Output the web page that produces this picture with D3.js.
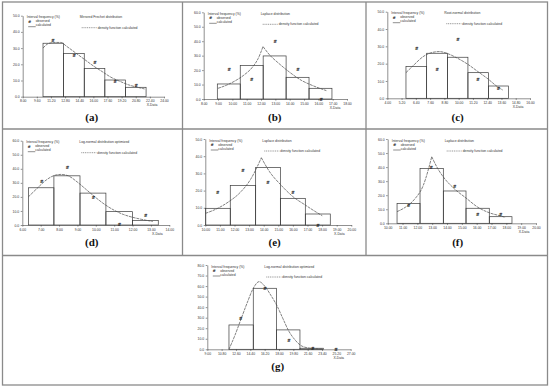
<!DOCTYPE html>
<html>
<head>
<meta charset="utf-8">
<script src="https://cdn.jsdelivr.net/npm/d3@7"></script>
<style>
  body { margin: 0; background: #fff; }
  svg { display: block; }
  .axis text { font-family: "Liberation Sans", Arial, sans-serif; font-size: 3.4px; fill: #333; }
  .axis path, .axis line { stroke: #444; stroke-width: 0.6; }
  .leg { font-family: "Liberation Sans", Arial, sans-serif; font-size: 3.4px; fill: #333; }
  .plabel { font-family: "Liberation Serif", "Times New Roman", serif; font-size: 11px; font-weight: bold; fill: #111; }
</style>
</head>
<body>
<div id="chart"></div>
<script>
// ---- data ----
// (a) mirrored Frechet
const aEdges = [10.3, 12.63, 14.97, 17.3, 19.63, 21.97];
const aFreq = [33.0, 26.7, 17.5, 10.3, 5.8];
const aObserved = [[11.43, 35.0], [13.84, 25.7], [16.17, 21.0], [18.47, 9.5], [20.84, 7.0]];
const aCurve = [[10.3, 30.0], [10.8, 32.5], [11.5, 33.5], [12.3, 33.5], [13.0, 31.0], [14.0, 27.0], [15.0, 23.0], [16.0, 19.0], [17.0, 15.5], [18.0, 12.0], [19.0, 9.5], [20.0, 7.3], [21.0, 5.8], [21.8, 4.8]];
const aXTicks = [8.00, 9.60, 11.20, 12.80, 14.40, 16.00, 17.60, 19.20, 20.80, 22.40, 24.00];
const aYTicks = [0, 10, 20, 30, 40, 50];

// (b) Laplace
const bEdges = [8.95, 10.55, 12.15, 13.75, 15.35, 16.95];
const bFreq = [10.4, 23.1, 29.8, 15.0, 7.4];
const bObserved = [[9.77, 20.1], [11.35, 13.2], [12.98, 39.7], [14.58, 20.1], [16.19, 0]];
const bCurve = [[9.0, 7.4], [9.6, 9.6], [10.2, 12.6], [10.8, 16.5], [11.4, 22.0], [11.8, 28.0], [12.14, 36.3], [12.6, 30.5], [13.2, 25.0], [14.0, 18.5], [14.8, 13.0], [15.6, 9.3], [16.56, 5.8]];
const bXTicks = [8, 9, 10, 11, 12, 13, 14, 15, 16, 17, 18];
const bYTicks = [0, 10, 20, 30, 40, 50, 60];

// (c) root-normal
const cEdges = [5.57, 7.31, 9.07, 10.78, 12.52, 14.2];
const cFreq = [18.3, 26.0, 23.7, 14.8, 7.1];
const cObserved = [[6.47, 28.5], [8.2, 16.9], [9.94, 34.0], [11.62, 11.0], [13.34, 5.4]];
const cCurve = [[5.57, 14.8], [6.2, 19.0], [7.0, 24.0], [7.8, 26.5], [8.4, 27.0], [9.0, 26.0], [9.8, 23.5], [10.8, 19.5], [11.6, 15.5], [12.5, 11.0], [13.2, 7.0], [13.7, 4.8]];
const cXTicks = [4.0, 5.2, 6.4, 7.6, 8.8, 10.0, 11.2, 12.4, 13.6, 14.8, 16.0];
const cYTicks = [0, 10, 20, 30, 40, 50];

// (d) log-normal optimized
const dEdges = [6.33, 7.72, 9.14, 10.55, 11.99, 13.4];
const dFreq = [26.5, 35.0, 22.7, 9.5, 3.1];
const dObserved = [[7.05, 31.3], [8.45, 41.0], [9.87, 19.7], [11.28, 0.5], [12.71, 6.6]];
const dCurve = [[6.33, 20.0], [6.8, 26.0], [7.3, 32.0], [7.8, 35.5], [8.1, 36.0], [8.5, 35.0], [9.0, 30.5], [9.5, 25.0], [10.0, 19.5], [10.5, 14.5], [11.0, 10.5], [11.5, 7.5], [12.0, 5.5], [12.5, 4.0], [13.1, 2.5]];
const dXTicks = [6, 7, 8, 9, 10, 11, 12, 13, 14];
const dYTicks = [0, 10, 20, 30, 40, 50, 60];

// (e) Laplace
const eEdges = [10.02, 11.71, 13.45, 15.14, 16.85, 18.56];
const eFreq = [9.7, 22.9, 33.5, 15.5, 6.4];
const eObserved = [[10.84, 18.8], [12.58, 31.4], [14.29, 24.8], [16.0, 18.8], [17.71, 0]];
const eCurve = [[10.02, 6.8], [10.8, 9.5], [11.6, 13.5], [12.4, 19.0], [13.1, 26.5], [13.84, 39.1], [14.4, 31.0], [15.14, 23.6], [16.0, 16.5], [16.85, 11.6], [17.5, 8.0], [18.01, 5.4]];
const eXTicks = [10, 11, 12, 13, 14, 15, 16, 17, 18, 19, 20];
const eYTicks = [0, 10, 20, 30, 40, 50];

// (f) Laplace
const fEdges = [10.63, 12.18, 13.75, 15.28, 16.85, 18.38];
const fFreq = [14.0, 39.1, 23.0, 10.7, 4.7];
const fObserved = [[11.42, 13.0], [12.94, 39.6], [14.52, 26.5], [16.07, 6.4], [17.62, 6.4]];
const fCurve = [[10.63, 8.3], [11.2, 11.5], [11.8, 17.0], [12.4, 27.0], [12.97, 47.4], [13.4, 38.5], [13.75, 33.0], [14.5, 24.5], [15.28, 18.0], [16.07, 11.5], [16.85, 7.5], [17.62, 5.2], [17.93, 4.2]];
const fXTicks = [10, 11, 12, 13, 14, 15, 16, 17, 18, 19, 20];
const fYTicks = [0, 10, 20, 30, 40, 50, 60];

// (g) log-normal optimized
const gEdges = [11.72, 14.77, 17.7, 20.63, 23.56, 26.49];
const gFreq = [23.1, 57.9, 18.4, 1.0, 0];
const gObserved = [[13.18, 29.1], [16.24, 57.9], [19.25, 8.2], [22.22, 0.3], [25.15, 0]];
const gCurve = [[11.72, 0], [12.4, 12.0], [13.2, 28.0], [14.0, 44.0], [14.77, 57.9], [15.5, 64.2], [16.2, 60.0], [17.0, 51.0], [17.7, 42.0], [18.5, 29.0], [19.25, 17.0], [20.0, 9.0], [20.63, 4.2], [21.5, 1.5], [22.5, 0.6], [23.5, 0.2]];
const gXTicks = [9.0, 10.8, 12.6, 14.4, 16.2, 18.0, 19.8, 21.6, 23.4, 25.2, 27.0];
const gYTicks = [0, 10, 20, 30, 40, 50, 60, 70, 80];

const titles = ["Mirrored Frechet distribution", "Laplace distribution", "Root-normal distribution",
  "Log-normal distribution optimized", "Laplace distribution", "Laplace distribution",
  "Log-normal distribution optimized"];
const tags = ["(a)", "(b)", "(c)", "(d)", "(e)", "(f)", "(g)"];

// layout: plot box [xLeft, xRight, yBottom, yTop] and label position for each panel
const panels = [
  { edges: aEdges, freq: aFreq, obs: aObserved, curve: aCurve, xt: aXTicks, yt: aYTicks, box: [22.7, 164, 96.7, 15.7], lab: [91.7, 121], cusp: false },
  { edges: bEdges, freq: bFreq, obs: bObserved, curve: bCurve, xt: bXTicks, yt: bYTicks, box: [203.7, 347, 99, 12.3], lab: [274.7, 121], cusp: true },
  { edges: cEdges, freq: cFreq, obs: cObserved, curve: cCurve, xt: cXTicks, yt: cYTicks, box: [387.3, 530, 98.3, 11.7], lab: [457.7, 121], cusp: false },
  { edges: dEdges, freq: dFreq, obs: dObserved, curve: dCurve, xt: dXTicks, yt: dYTicks, box: [22.3, 169.3, 225, 140.7], lab: [91.7, 246], cusp: false },
  { edges: eEdges, freq: eFreq, obs: eObserved, curve: eCurve, xt: eXTicks, yt: eYTicks, box: [205.3, 351.3, 225, 139], lab: [274.7, 246], cusp: true },
  { edges: fEdges, freq: fFreq, obs: fObserved, curve: fCurve, xt: fXTicks, yt: fYTicks, box: [387.7, 536, 223.3, 139], lab: [457.7, 246], cusp: true },
  { edges: gEdges, freq: gFreq, obs: gObserved, curve: gCurve, xt: gXTicks, yt: gYTicks, box: [207.3, 350.7, 349.3, 265], lab: [277.7, 370], cusp: false }
];

const svg = d3.select("#chart").append("svg")
  .attr("width", 550).attr("height", 387);

// table grid
const grid = svg.append("g").attr("fill", "none").attr("stroke", "#8a8a8a").attr("stroke-width", 1.3);
grid.append("rect").attr("x", 2.5).attr("y", 2).attr("width", 545).attr("height", 383);
grid.append("line").attr("x1", 2.5).attr("x2", 547.5).attr("y1", 129).attr("y2", 129);
grid.append("line").attr("x1", 2.5).attr("x2", 547.5).attr("y1", 255.5).attr("y2", 255.5);
[182.5, 366].forEach(x => {
  grid.append("line").attr("x1", x).attr("x2", x).attr("y1", 2).attr("y2", 255.5);
});

panels.forEach((p, i) => {
  const [x0, x1, y0, y1] = p.box;
  const x = d3.scaleLinear().domain([p.xt[0], p.xt[p.xt.length - 1]]).range([x0, x1]);
  const y = d3.scaleLinear().domain([0, p.yt[p.yt.length - 1]]).range([y0, y1]);
  const g = svg.append("g");

  g.append("g").attr("class", "axis")
    .attr("transform", `translate(0,${y0})`)
    .call(d3.axisBottom(x).tickValues(p.xt).tickFormat(d3.format(".2f")).tickSize(1.6).tickPadding(1.5).tickSizeOuter(0));
  g.append("g").attr("class", "axis")
    .attr("transform", `translate(${x0},0)`)
    .call(d3.axisLeft(y).tickValues(p.yt).tickFormat(d3.format(".1f")).tickSize(1.6).tickPadding(1.5).tickSizeOuter(0));

  // bars
  g.append("g").selectAll("rect")
    .data(p.freq)
    .join("rect")
    .attr("x", (d, j) => x(p.edges[j]))
    .attr("width", (d, j) => x(p.edges[j + 1]) - x(p.edges[j]))
    .attr("y", d => y(d))
    .attr("height", d => y(0) - y(d))
    .attr("fill", "none")
    .attr("stroke", "#3a3a3a")
    .attr("stroke-width", 0.7);

  // density curve
  const line = d3.line().x(d => x(d[0])).y(d => y(d[1])).curve(d3.curveMonotoneX);
  let parts = [p.curve];
  if (p.cusp) {
    const k = d3.maxIndex(p.curve, d => d[1]);
    parts = [p.curve.slice(0, k + 1), p.curve.slice(k)];
  }
  parts.forEach(part => {
    g.append("path")
      .attr("d", line(part))
      .attr("fill", "none")
      .attr("stroke", "#4a4a4a")
      .attr("stroke-width", 0.7)
      .attr("stroke-dasharray", "3,0.8");
  });

  // observed points
  g.append("g").selectAll("text")
    .data(p.obs)
    .join("text")
    .attr("x", d => x(d[0]))
    .attr("y", d => y(d[1]) + 1.5)
    .attr("text-anchor", "middle")
    .attr("font-family", "DejaVu Sans, sans-serif")
    .attr("font-size", 4.6)
    .attr("font-weight", "bold")
    .attr("fill", "#222")
    .text("#");

  // legend
  const lx = x0 + 4, ly = y1 + 2.5;
  g.append("text").attr("class", "leg").attr("x", lx).attr("y", ly).text("Interval frequency (%)");
  g.append("text").attr("x", lx + 3).attr("y", ly + 4.6).attr("text-anchor", "middle")
    .attr("font-family", "DejaVu Sans, sans-serif").attr("font-size", 4).attr("font-weight", "bold").attr("fill", "#222").text("#");
  g.append("text").attr("class", "leg").attr("x", lx + 9).attr("y", ly + 4.2).text("observed");
  g.append("line").attr("x1", lx + 1.5).attr("x2", lx + 9).attr("y1", ly + 8.5).attr("y2", ly + 8.5)
    .attr("stroke", "#444").attr("stroke-width", 0.6);
  g.append("text").attr("class", "leg").attr("x", lx + 9).attr("y", ly + 8.2).text("calculated");
  g.append("text").attr("class", "leg").attr("x", lx + 53).attr("y", ly).text(titles[i]);
  g.append("line").attr("x1", lx + 55).attr("x2", lx + 70).attr("y1", ly + 9.5).attr("y2", ly + 9.5)
    .attr("stroke", "#444").attr("stroke-width", 0.6).attr("stroke-dasharray", "1,0.8");
  g.append("text").attr("class", "leg").attr("x", lx + 71).attr("y", ly + 10.5).text("density function calculated");

  // x label and panel tag
  g.append("text").attr("class", "leg").attr("x", x1 - 12).attr("y", y0 + 9.5).attr("text-anchor", "middle").text("X-Data");
  g.append("text").attr("class", "plabel").attr("x", p.lab[0]).attr("y", p.lab[1]).attr("text-anchor", "middle").text(tags[i]);
});
</script>
</body>
</html>
